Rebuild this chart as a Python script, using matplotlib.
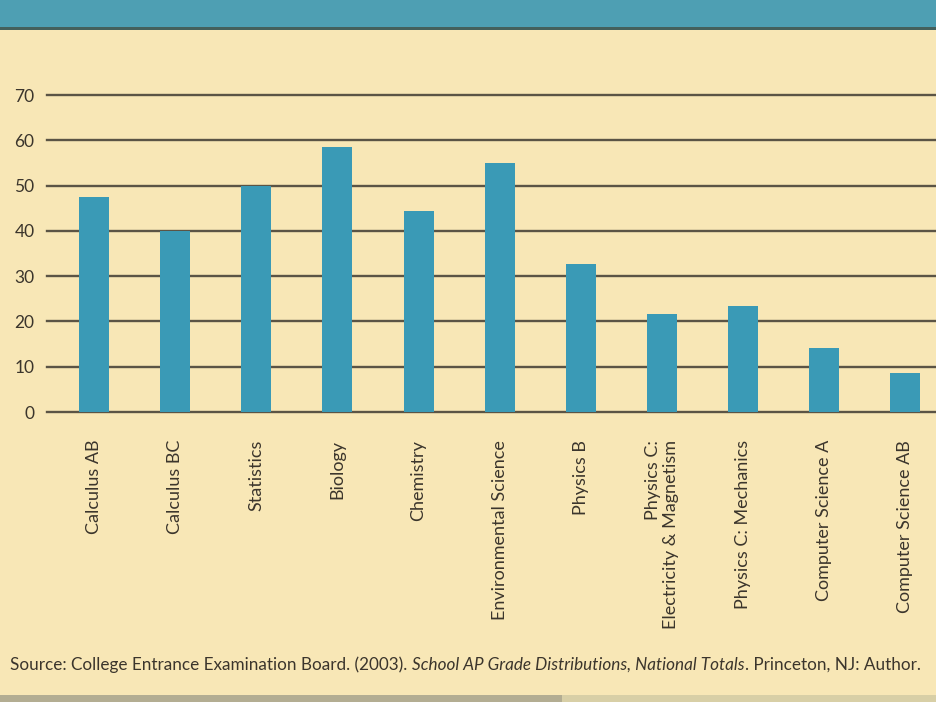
import matplotlib
matplotlib.use("Agg")
import matplotlib.pyplot as plt
from matplotlib.patches import Rectangle

# --- Data ---
subjects = [
    "Calculus AB", "Calculus BC", "Statistics", "Biology", "Chemistry",
    "Environmental Science", "Physics B", "Physics C:\nElectricity & Magnetism",
    "Physics C: Mechanics", "Computer Science A", "Computer Science AB",
]
percent_female = [47.5, 40.0, 50.0, 58.6, 44.4, 55.0, 32.8, 21.6, 23.5, 14.2, 8.7]
y_ticks = [0, 10, 20, 30, 40, 50, 60, 70]

source_parts = [
    ("Source: College Entrance Examination Board. (2003). ", "normal"),
    ("School AP Grade Distributions, National Totals", "italic"),
    (". Princeton, NJ: Author.", "normal"),
]

# --- Colours ---
PAPER = "#f8e7b6"
BAR = "#3a9ab6"
BAND = "#4e9fb3"
GRID = "#5b5445"
TEXT = "#3b352c"

plt.rcParams["font.family"] = ["Lato", "DejaVu Sans"]

fig = plt.figure(figsize=(9.37, 7.02), dpi=100, facecolor=PAPER)

# title band at the top (its text is cut off in the reference)
fig.patches.append(Rectangle((0, 0.9615), 1, 0.04, transform=fig.transFigure,
                             facecolor=BAND, edgecolor="none", zorder=0))
fig.patches.append(Rectangle((0, 0.957), 1, 0.0045, transform=fig.transFigure,
                             facecolor="#44605c", edgecolor="none", zorder=1))
# greyish strip along the bottom edge
fig.patches.append(Rectangle((0, 0), 0.6, 0.01, transform=fig.transFigure,
                             facecolor="#b3ad92", edgecolor="none", zorder=0))
fig.patches.append(Rectangle((0.6, 0), 0.4, 0.01, transform=fig.transFigure,
                             facecolor="#d8cfa6", edgecolor="none", zorder=0))

ax = fig.add_axes([0.0502, 0.413, 0.9498, 0.4516])
ax.set_facecolor("none")
x = list(range(len(subjects)))
ax.bar(x, percent_female, width=0.37, color=BAR, zorder=3)

# horizontal rules behind the bars
for t in y_ticks:
    ax.axhline(t, color=GRID, lw=1.7, zorder=1, clip_on=False)

ax.set_xlim(-0.58, 10.39)
ax.set_ylim(0, 70)
ax.set_yticks(y_ticks)
ax.set_yticklabels([str(t) for t in y_ticks], fontsize=12.5, color=TEXT)
ax.set_xticks(x)
ax.set_xticklabels(subjects, rotation=90, fontsize=13, color=TEXT,
                   va="top", ha="center", multialignment="right")
ax.tick_params(axis="y", length=0, pad=9)
ax.tick_params(axis="x", length=0, pad=20)
for s in ax.spines.values():
    s.set_visible(False)

# source line, the report title in italics, pieces chained end to end
prev = fig.text(0.011, 0.046, source_parts[0][0], fontsize=12.3, color=TEXT,
                style=source_parts[0][1], va="baseline", ha="left")
for txt, style in source_parts[1:]:
    prev = ax.annotate(txt, xy=(1, 0), xycoords=prev, fontsize=12.3,
                       color=TEXT, style=style, va="bottom", ha="left",
                       annotation_clip=False)

fig.savefig("out.png", dpi=100, facecolor=PAPER)
